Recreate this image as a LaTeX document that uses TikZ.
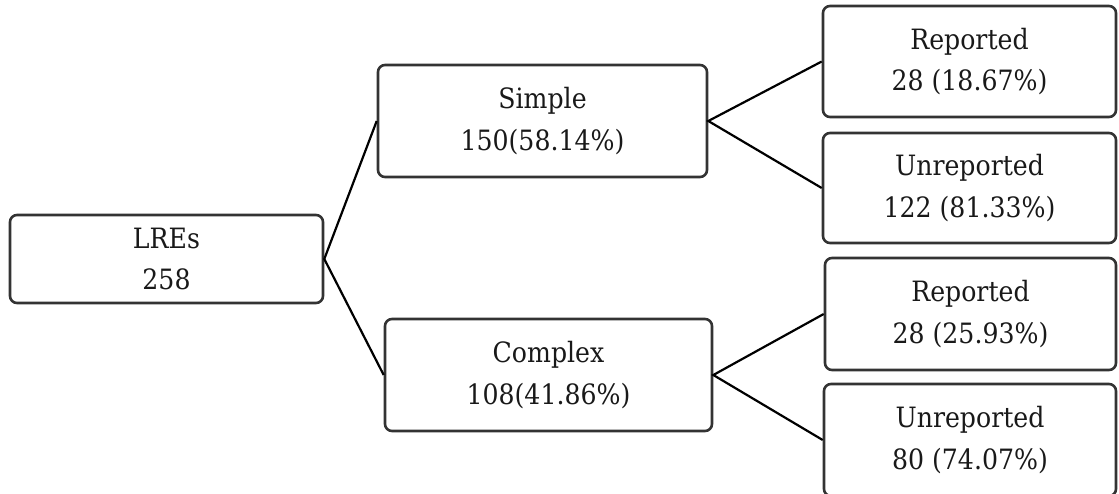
\documentclass[tikz,border=0pt]{standalone}
\usepackage{fontspec}
\setmainfont{DejaVu Serif}[FakeStretch=0.9]
\begin{document}
\begin{tikzpicture}[x=1pt,y=-1pt,
  box/.style={draw=black!80, line width=2.6pt, rounded corners=7pt,
    align=center, inner sep=0pt, font=\fontsize{28}{41.6}\selectfont,
    text=black!90},
  link/.style={draw=black, line width=2.2pt}]
\useasboundingbox (0,0) rectangle (1119,493);

% category boxes
\node[box, minimum width=313pt, minimum height=88pt]  (lre)  at (166.5,259) {LREs\\258};
\node[box, minimum width=329pt, minimum height=112pt] (simp) at (542.5,121) {Simple\\150(58.14\%)};
\node[box, minimum width=327pt, minimum height=112pt] (comp) at (548.5,375) {Complex\\108(41.86\%)};

% reporting outcomes
\node[box, minimum width=293pt, minimum height=111pt] (rep1) at (969.5,61.5) {Reported\\28 (18.67\%)};
\node[box, minimum width=293pt, minimum height=110pt] (unr1) at (969.5,188) {Unreported\\122 (81.33\%)};
\node[box, minimum width=291pt, minimum height=112pt] (rep2) at (970.5,314) {Reported\\28 (25.93\%)};
\node[box, minimum width=292pt, minimum height=112pt] (unr2) at (970,440) {Unreported\\80 (74.07\%)};

% tree connectors
\draw[link] (simp.west) -- (lre.east) -- (comp.west);
\draw[link] (rep1.west) -- (simp.east) -- (unr1.west);
\draw[link] (rep2.west) -- (comp.east) -- (unr2.west);
\end{tikzpicture}
\end{document}
